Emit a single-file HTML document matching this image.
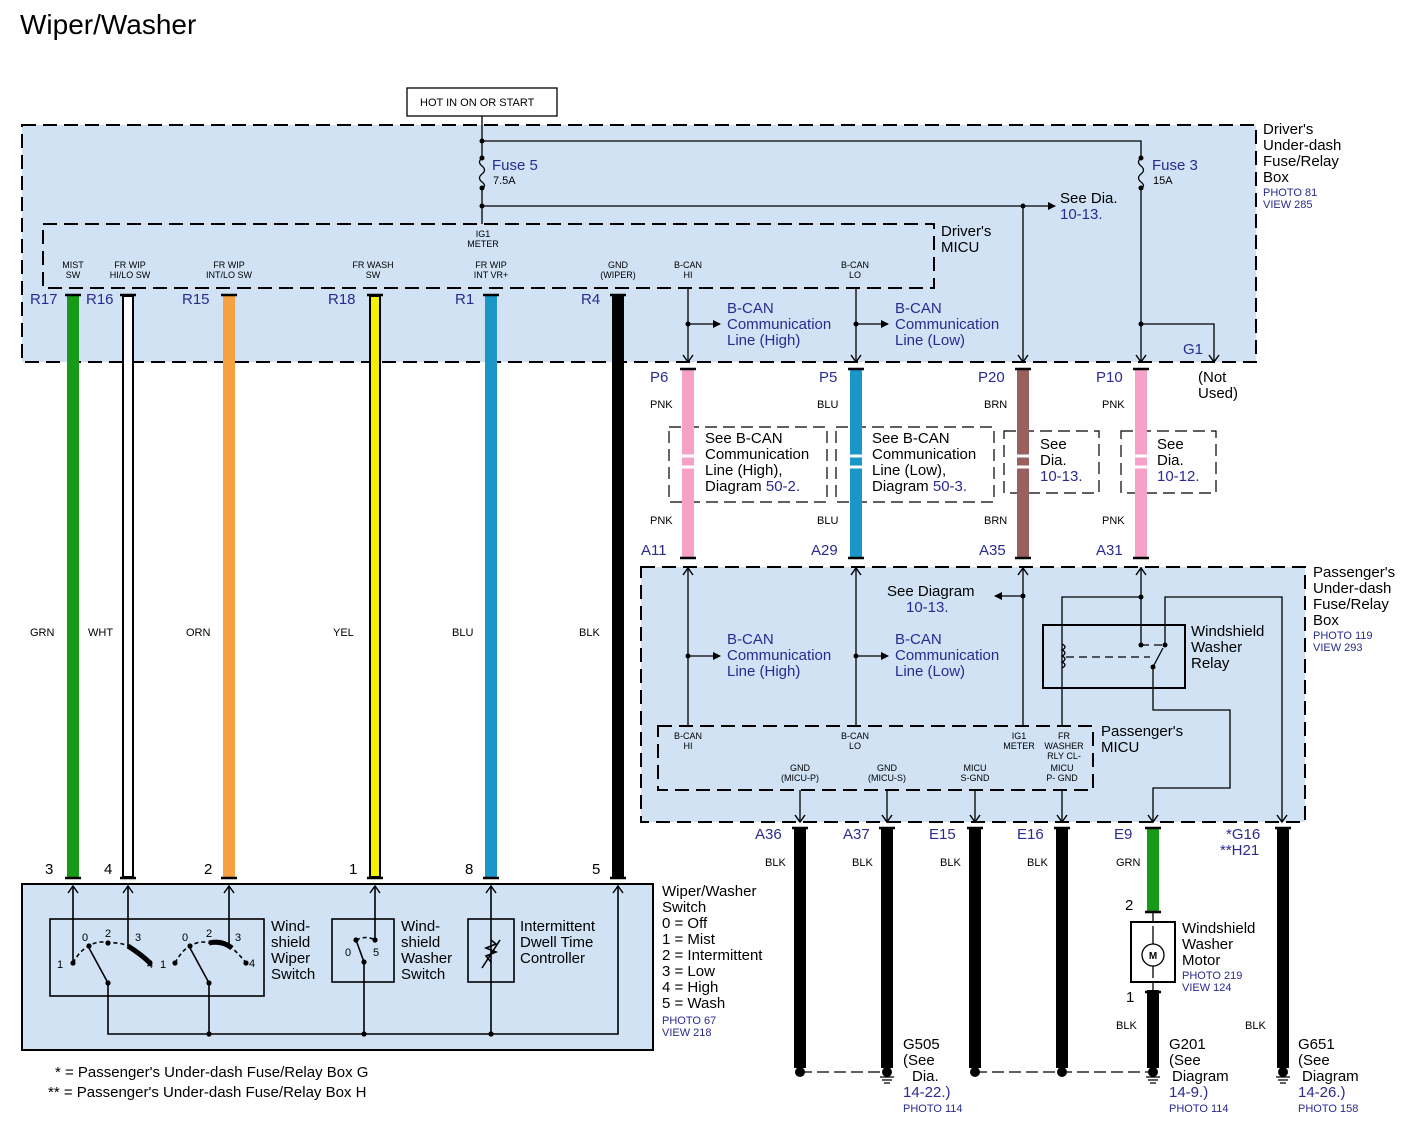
<!DOCTYPE html>
<html><head><meta charset="utf-8"><style>
html,body{margin:0;padding:0;background:#fff;}
svg{display:block;font-family:"Liberation Sans",sans-serif;}
.s{font-size:9px;fill:#000;}
.m{font-size:15px;fill:#000;}
.b{font-size:15px;fill:#2a2a90;}
.c{font-size:11px;fill:#000;}
.p{font-size:11px;fill:#2a2a90;}
</style></head><body>
<svg width="1415" height="1135" viewBox="0 0 1415 1135" xmlns="http://www.w3.org/2000/svg">
<defs>
<marker id="ar" markerWidth="8" markerHeight="8" refX="7" refY="4" orient="auto" markerUnits="userSpaceOnUse"><path d="M0,0 L8,4 L0,8 z" fill="#000"/></marker>
</defs>
<text x="20" y="34" font-size="28" fill="#000">Wiper/Washer</text>

<!-- top box -->
<rect x="22" y="125" width="1234" height="237" fill="#d0e2f4" stroke="#000" stroke-width="2" stroke-dasharray="14,7"/>
<rect x="43" y="224" width="891" height="64" fill="none" stroke="#000" stroke-width="2" stroke-dasharray="14,7"/>
<rect x="407" y="88" width="150" height="28" fill="#fff" stroke="#000" stroke-width="1.3"/>
<text x="420" y="106" class="c">HOT IN ON OR START</text>
<g stroke="#000" stroke-width="1.3" fill="none">
<path d="M482,116 V158 M482,188 V224 M482,141 H1141 V158 M1141,188 V362"/>
<path d="M482,158 q-5,4 0,8 q5,4 0,8 q-5,4 0,8 q5,4 0,6"/>
<path d="M1141,158 q-5,4 0,8 q5,4 0,8 q-5,4 0,8 q5,4 0,6"/>
<path d="M482,206 H1055" marker-end="url(#ar)"/>
<path d="M1023,206 V362"/>
<path d="M1141,324 H1214 V362"/>
<path d="M688,288 V362 M856,288 V362"/>
<path d="M688,324 H720" marker-end="url(#ar)"/>
<path d="M856,324 H888" marker-end="url(#ar)"/>
</g>
<g fill="#000"><circle cx="482" cy="141" r="2.5"/><circle cx="482" cy="158" r="2.5"/><circle cx="482" cy="188" r="2.5"/><circle cx="482" cy="206" r="2.5"/><circle cx="1141" cy="158" r="2.5"/><circle cx="1141" cy="188" r="2.5"/><circle cx="1023" cy="206" r="2.5"/><circle cx="1141" cy="324" r="2.5"/><circle cx="688" cy="324" r="2.5"/><circle cx="856" cy="324" r="2.5"/></g>
<text x="492" y="170" class="b">Fuse 5</text><text x="493" y="184" class="c">7.5A</text>
<text x="1152" y="170" class="b">Fuse 3</text><text x="1153" y="184" class="c">15A</text>
<text x="1060" y="203" class="m">See Dia.</text><text x="1060" y="219" class="b">10-13.</text>
<text x="1263" y="134" class="m">Driver's</text><text x="1263" y="150" class="m">Under-dash</text><text x="1263" y="166" class="m">Fuse/Relay</text><text x="1263" y="182" class="m">Box</text>
<text x="1263" y="196" class="p">PHOTO 81</text><text x="1263" y="208" class="p">VIEW 285</text>
<text x="941" y="236" class="m">Driver's</text><text x="941" y="252" class="m">MICU</text>
<text x="483" y="237" class="s" text-anchor="middle">IG1</text><text x="483" y="247" class="s" text-anchor="middle">METER</text>
<g class="s" text-anchor="middle">
<text x="73" y="268">MIST</text><text x="73" y="278">SW</text>
<text x="130" y="268">FR WIP</text><text x="130" y="278">HI/LO SW</text>
<text x="229" y="268">FR WIP</text><text x="229" y="278">INT/LO SW</text>
<text x="373" y="268">FR WASH</text><text x="373" y="278">SW</text>
<text x="491" y="268">FR WIP</text><text x="491" y="278">INT VR+</text>
<text x="618" y="268">GND</text><text x="618" y="278">(WIPER)</text>
<text x="688" y="268">B-CAN</text><text x="688" y="278">HI</text>
<text x="855" y="268">B-CAN</text><text x="855" y="278">LO</text>
</g>
<text x="727" y="313" class="b">B-CAN</text><text x="727" y="329" class="b">Communication</text><text x="727" y="345" class="b">Line (High)</text>
<text x="895" y="313" class="b">B-CAN</text><text x="895" y="329" class="b">Communication</text><text x="895" y="345" class="b">Line (Low)</text>
<text x="1183" y="354" class="b">G1</text>
<text x="1198" y="382" class="m">(Not</text><text x="1198" y="398" class="m">Used)</text>
<g class="b"><text x="30" y="304">R17</text><text x="86" y="304">R16</text><text x="182" y="304">R15</text><text x="328" y="304">R18</text><text x="455" y="304">R1</text><text x="581" y="304">R4</text></g>

<!-- left wires -->
<g stroke-width="12">
<line x1="73" y1="295" x2="73" y2="878" stroke="#179a17"/>
<line x1="128" y1="295" x2="128" y2="878" stroke="#000"/>
<line x1="229" y1="295" x2="229" y2="878" stroke="#f7a040"/>
<line x1="375" y1="295" x2="375" y2="878" stroke="#000"/>
<line x1="491" y1="295" x2="491" y2="878" stroke="#1a96c8"/>
<line x1="618" y1="295" x2="618" y2="878" stroke="#000"/>
</g>
<line x1="128" y1="297" x2="128" y2="876" stroke="#fff" stroke-width="8"/>
<line x1="375" y1="297" x2="375" y2="876" stroke="#f5f000" stroke-width="8"/>
<g stroke="#000" stroke-width="2.5" fill="none">
<path d="M65,295 H81 M120,295 H136 M221,295 H237 M367,295 H383 M483,295 H499 M610,295 H626"/>
<path d="M65,878 H81 M120,878 H136 M221,878 H237 M367,878 H383 M483,878 H499 M610,878 H626"/>
</g>
<g class="c"><text x="30" y="636">GRN</text><text x="88" y="636">WHT</text><text x="186" y="636">ORN</text><text x="333" y="636">YEL</text><text x="452" y="636">BLU</text><text x="579" y="636">BLK</text></g>
<g class="m"><text x="45" y="874">3</text><text x="104" y="874">4</text><text x="204" y="874">2</text><text x="349" y="874">1</text><text x="465" y="874">8</text><text x="592" y="874">5</text></g>

<!-- switch box -->
<rect x="22" y="884" width="631" height="166" fill="#d0e2f4" stroke="#000" stroke-width="2"/>
<g stroke="#000" stroke-width="1.6" fill="none">
<rect x="50" y="919" width="214" height="77"/>
<rect x="332" y="919" width="62" height="63"/>
<rect x="468" y="919" width="46" height="63"/>
<path d="M73,886 V963 M128,886 V946 M229,886 V946 M375,886 V940 M491,886 V1034 M618,886 V1034 H108 V983 M209,983 V1034 M364,962 V1034"/>
<path d="M108,983 L89,948 M209,983 L190,948 M364,962 L356,940"/>
<path d="M73,963 Q80,950 89,946 Q98,940 108,943 Q120,942 128,946 M175,963 Q182,950 190,946 Q200,940 209,943 Q225,942 232,948 Q240,955 246,963 M356,940 Q366,935 375,940" stroke-dasharray="4,3"/>
<path d="M128,946 Q142,955 150,963" stroke-width="5"/>
<path d="M209,943 Q222,940 232,948" stroke-width="5"/>
<path d="M491,962 l-5,-6 l10,-4 l-10,-4 l10,-4 l-5,-4 M482,968 L500,940"/>
</g>
<g fill="#000"><circle cx="73" cy="963" r="2.6"/><circle cx="89" cy="946" r="2.6"/><circle cx="108" cy="943" r="2.6"/><circle cx="150" cy="963" r="2.6"/><circle cx="108" cy="983" r="2.6"/><circle cx="175" cy="963" r="2.6"/><circle cx="190" cy="946" r="2.6"/><circle cx="246" cy="963" r="2.6"/><circle cx="209" cy="983" r="2.6"/><circle cx="356" cy="940" r="2.6"/><circle cx="375" cy="940" r="2.6"/><circle cx="364" cy="962" r="2.6"/><circle cx="209" cy="1034" r="2.6"/><circle cx="364" cy="1034" r="2.6"/><circle cx="491" cy="1034" r="2.6"/></g>
<g font-size="11"><text x="57" y="968">1</text><text x="82" y="941">0</text><text x="105" y="937">2</text><text x="135" y="941">3</text><text x="147" y="968">4</text><text x="160" y="968">1</text><text x="182" y="941">0</text><text x="206" y="937">2</text><text x="235" y="941">3</text><text x="249" y="967">4</text><text x="345" y="956">0</text><text x="373" y="956">5</text></g>
<g class="m"><text x="271" y="931">Wind-</text><text x="271" y="947">shield</text><text x="271" y="963">Wiper</text><text x="271" y="979">Switch</text>
<text x="401" y="931">Wind-</text><text x="401" y="947">shield</text><text x="401" y="963">Washer</text><text x="401" y="979">Switch</text>
<text x="520" y="931">Intermittent</text><text x="520" y="947">Dwell Time</text><text x="520" y="963">Controller</text>
<text x="662" y="896">Wiper/Washer</text><text x="662" y="912">Switch</text><text x="662" y="928">0 = Off</text><text x="662" y="944">1 = Mist</text><text x="662" y="960">2 = Intermittent</text><text x="662" y="976">3 = Low</text><text x="662" y="992">4 = High</text><text x="662" y="1008">5 = Wash</text></g>
<text x="662" y="1024" class="p">PHOTO 67</text><text x="662" y="1036" class="p">VIEW 218</text>
<text x="55" y="1077" class="m">* = Passenger's Under-dash Fuse/Relay Box G</text>
<text x="48" y="1097" class="m">** = Passenger's Under-dash Fuse/Relay Box H</text>

<!-- middle wires -->
<g stroke="#000" stroke-width="1.2" fill="none" stroke-dasharray="12,6">
<rect x="669" y="427" width="158" height="75"/><rect x="836" y="427" width="158" height="75"/>
<rect x="1004" y="431" width="95" height="62"/><rect x="1121" y="431" width="95" height="62"/>
</g>
<g stroke-width="12"><line x1="688" y1="368" x2="688" y2="558" stroke="#f7a0c8"/><line x1="856" y1="368" x2="856" y2="558" stroke="#1a96c8"/><line x1="1023" y1="368" x2="1023" y2="558" stroke="#9a6060"/><line x1="1141" y1="368" x2="1141" y2="558" stroke="#f7a0c8"/></g>
<g stroke="#fff" stroke-width="3"><path d="M680,456 H696 M680,467 H696 M848,456 H864 M848,467 H864 M1015,456 H1031 M1015,467 H1031 M1133,456 H1149 M1133,467 H1149"/></g>
<g stroke="#000" stroke-width="2.5" fill="none"><path d="M680,369 H696 M848,369 H864 M1015,369 H1031 M1133,369 H1149 M680,558 H696 M848,558 H864 M1015,558 H1031 M1133,558 H1149"/></g>
<g class="b"><text x="650" y="382">P6</text><text x="819" y="382">P5</text><text x="978" y="382">P20</text><text x="1096" y="382">P10</text><text x="641" y="555">A11</text><text x="811" y="555">A29</text><text x="979" y="555">A35</text><text x="1096" y="555">A31</text></g>
<g class="c"><text x="650" y="408">PNK</text><text x="817" y="408">BLU</text><text x="984" y="408">BRN</text><text x="1102" y="408">PNK</text><text x="650" y="524">PNK</text><text x="817" y="524">BLU</text><text x="984" y="524">BRN</text><text x="1102" y="524">PNK</text></g>
<g class="m"><text x="705" y="443">See B-CAN</text><text x="705" y="459">Communication</text><text x="705" y="475">Line (High),</text><text x="705" y="491">Diagram <tspan fill="#2a2a90">50-2.</tspan></text>
<text x="872" y="443">See B-CAN</text><text x="872" y="459">Communication</text><text x="872" y="475">Line (Low),</text><text x="872" y="491">Diagram <tspan fill="#2a2a90">50-3.</tspan></text>
<text x="1040" y="449">See</text><text x="1040" y="465">Dia.</text><text x="1040" y="481" fill="#2a2a90">10-13.</text>
<text x="1157" y="449">See</text><text x="1157" y="465">Dia.</text><text x="1157" y="481" fill="#2a2a90">10-12.</text></g>

<!-- passenger box -->
<rect x="641" y="567" width="664" height="255" fill="#d0e2f4" stroke="#000" stroke-width="2" stroke-dasharray="14,7"/>
<rect x="658" y="726" width="435" height="64" fill="none" stroke="#000" stroke-width="2" stroke-dasharray="14,7"/>
<g stroke="#000" stroke-width="1.3" fill="none">
<path d="M688,726 V567 M856,726 V567 M1023,726 V567 M1141,567 V645"/>
<path d="M688,656 H720" marker-end="url(#ar)"/><path d="M856,656 H888" marker-end="url(#ar)"/>
<path d="M1023,596 H995" marker-end="url(#ar)"/>
<rect x="1043" y="625" width="142" height="63" stroke-width="2"/>
<path d="M1141,597 H1062 V726 M1165,645 V597 H1282 V822 M1153,667 V710 H1230 V788 H1153 V822"/>
<path d="M1062,644 q6,3 0,6 q6,3 0,6 q6,3 0,6 q6,3 0,6"/>
<path d="M1066,657 H1150 M1141,645 H1165" stroke-dasharray="8,5"/>
<path d="M1153,667 L1163,648"/>
<path d="M800,790 V822 M887,790 V822 M975,790 V822 M1062,790 V822"/>
</g>
<!-- arrowheads at connectors -->
<g stroke="#000" stroke-width="1.4" fill="none">
<path d="M683,355 L688,362 L693,355 M851,355 L856,362 L861,355 M1018,355 L1023,362 L1028,355 M1136,355 L1141,362 L1146,355 M1209,355 L1214,362 L1219,355"/>
<path d="M683,575 L688,568 L693,575 M851,575 L856,568 L861,575 M1018,575 L1023,568 L1028,575 M1136,575 L1141,568 L1146,575"/>
<path d="M795,815 L800,822 L805,815 M882,815 L887,822 L892,815 M970,815 L975,822 L980,815 M1057,815 L1062,822 L1067,815 M1148,815 L1153,822 L1158,815 M1277,815 L1282,822 L1287,815"/>
<path d="M68,893 L73,886 L78,893 M123,893 L128,886 L133,893 M224,893 L229,886 L234,893 M370,893 L375,886 L380,893 M486,893 L491,886 L496,893 M613,893 L618,886 L623,893"/>
</g>
<g fill="#000"><circle cx="688" cy="656" r="2.5"/><circle cx="856" cy="656" r="2.5"/><circle cx="1023" cy="596" r="2.5"/><circle cx="1141" cy="597" r="2.5"/><circle cx="1141" cy="645" r="2.5"/><circle cx="1165" cy="645" r="2.5"/><circle cx="1153" cy="667" r="2.5"/></g>
<g class="b"><text x="727" y="644">B-CAN</text><text x="727" y="660">Communication</text><text x="727" y="676">Line (High)</text><text x="895" y="644">B-CAN</text><text x="895" y="660">Communication</text><text x="895" y="676">Line (Low)</text><text x="906" y="612">10-13.</text></g>
<text x="887" y="596" class="m">See Diagram</text>
<g class="m"><text x="1191" y="636">Windshield</text><text x="1191" y="652">Washer</text><text x="1191" y="668">Relay</text><text x="1101" y="736">Passenger's</text><text x="1101" y="752">MICU</text>
<text x="1313" y="577">Passenger's</text><text x="1313" y="593">Under-dash</text><text x="1313" y="609">Fuse/Relay</text><text x="1313" y="625">Box</text></g>
<text x="1313" y="639" class="p">PHOTO 119</text><text x="1313" y="651" class="p">VIEW 293</text>
<g class="s" text-anchor="middle"><text x="688" y="739">B-CAN</text><text x="688" y="749">HI</text><text x="855" y="739">B-CAN</text><text x="855" y="749">LO</text><text x="1019" y="739">IG1</text><text x="1019" y="749">METER</text>
<text x="1064" y="739">FR</text><text x="1064" y="749">WASHER</text><text x="1064" y="759">RLY CL-</text><text x="1062" y="771">MICU</text><text x="1062" y="781">P- GND</text>
<text x="800" y="771">GND</text><text x="800" y="781">(MICU-P)</text><text x="887" y="771">GND</text><text x="887" y="781">(MICU-S)</text><text x="975" y="771">MICU</text><text x="975" y="781">S-GND</text></g>

<!-- bottom wires -->
<g stroke-width="12" stroke="#000"><line x1="800" y1="828" x2="800" y2="1068"/><line x1="887" y1="828" x2="887" y2="1068"/><line x1="975" y1="828" x2="975" y2="1068"/><line x1="1062" y1="828" x2="1062" y2="1068"/><line x1="1283" y1="828" x2="1283" y2="1068"/><line x1="1153" y1="990" x2="1153" y2="1068"/></g>
<line x1="1153" y1="828" x2="1153" y2="912" stroke="#179a17" stroke-width="12"/>
<g stroke="#000" stroke-width="2.5"><path d="M792,828 H808 M879,828 H895 M967,828 H983 M1054,828 H1070 M1145,828 H1161 M1275,828 H1291 M1145,912 H1161 M1145,992 H1161"/></g>
<g stroke="#000" stroke-width="1.3" fill="none"><path d="M1153,912 V922 M1153,982 V992"/><rect x="1131" y="922" width="44" height="60" stroke-width="2"/><circle cx="1153" cy="955" r="11"/><path d="M1153,926 V944 M1153,966 V978"/>
<path d="M800,1072 H887 M975,1072 H1153" stroke-dasharray="12,5"/>
<path d="M880,1077 H894 M882,1080 H892 M884,1083 H890 M1146,1077 H1160 M1148,1080 H1158 M1150,1083 H1156 M1276,1077 H1290 M1278,1080 H1288 M1280,1083 H1286"/></g>
<text x="1153" y="959" font-size="10" text-anchor="middle" font-weight="bold">M</text>
<g fill="#000"><circle cx="800" cy="1072" r="5"/><circle cx="887" cy="1072" r="5"/><circle cx="975" cy="1072" r="5"/><circle cx="1062" cy="1072" r="5"/><circle cx="1153" cy="1072" r="5"/><circle cx="1283" cy="1072" r="5"/></g>
<g class="b"><text x="755" y="839">A36</text><text x="843" y="839">A37</text><text x="929" y="839">E15</text><text x="1017" y="839">E16</text><text x="1114" y="839">E9</text><text x="1226" y="839">*G16</text><text x="1220" y="855">**H21</text></g>
<g class="c"><text x="765" y="866">BLK</text><text x="852" y="866">BLK</text><text x="940" y="866">BLK</text><text x="1027" y="866">BLK</text><text x="1116" y="866">GRN</text><text x="1116" y="1029">BLK</text><text x="1245" y="1029">BLK</text></g>
<g class="m"><text x="1125" y="910">2</text><text x="1126" y="1002">1</text>
<text x="1182" y="933">Windshield</text><text x="1182" y="949">Washer</text><text x="1182" y="965">Motor</text>
<text x="903" y="1049">G505</text><text x="903" y="1065">(See</text><text x="912" y="1081">Dia.</text><text x="903" y="1097" fill="#2a2a90">14-22.)</text>
<text x="1169" y="1049">G201</text><text x="1169" y="1065">(See</text><text x="1172" y="1081">Diagram</text><text x="1169" y="1097" fill="#2a2a90">14-9.)</text>
<text x="1298" y="1049">G651</text><text x="1298" y="1065">(See</text><text x="1302" y="1081">Diagram</text><text x="1298" y="1097" fill="#2a2a90">14-26.)</text></g>
<text x="1182" y="979" class="p">PHOTO 219</text><text x="1182" y="991" class="p">VIEW 124</text>
<text x="903" y="1112" class="p">PHOTO 114</text><text x="1169" y="1112" class="p">PHOTO 114</text><text x="1298" y="1112" class="p">PHOTO 158</text>
</svg>
</body></html>
